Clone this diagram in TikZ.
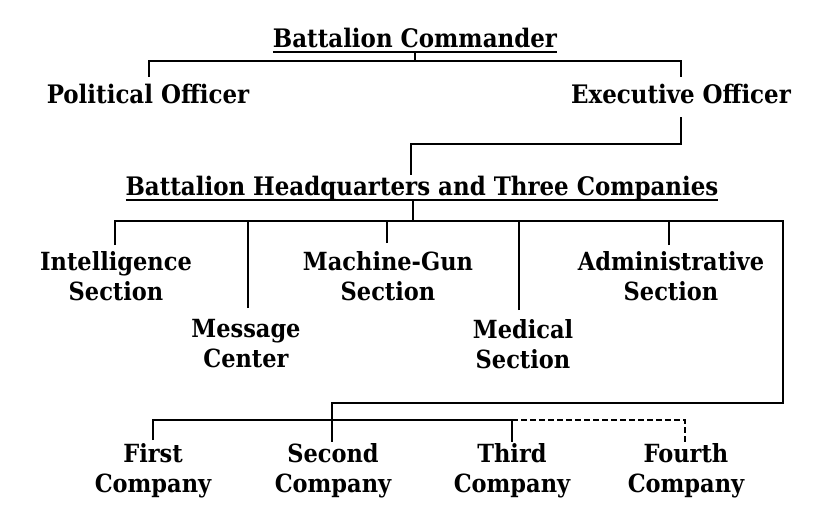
\documentclass[tikz,border=0pt]{standalone}
\usepackage{fontspec}
\setmainfont{DejaVu Serif Condensed}[BoldFont={DejaVu Serif Condensed Bold}]
\newcommand\lblfont{\fontsize{25.5}{30}\selectfont\bfseries}
\newcommand\subfont{\fontsize{25}{30}\selectfont\bfseries}
\begin{document}
\begin{tikzpicture}[x=1pt,y=-1pt,line width=1.8pt,
  lbl/.style={inner sep=0pt,outer sep=0pt,font=\lblfont,align=center,anchor=base},
  sublbl/.style={lbl,font=\subfont},
  dashline/.style={dash pattern=on 6pt off 3pt}]
\useasboundingbox[fill=white] (0,0) rectangle (820,530);
% texts (multi-line nodes are placed by the baseline of their last line)
\node[lbl] (bc) at (415,47) {Battalion Commander};
\node[lbl] (po) at (148,103) {Political Officer};
\node[lbl] (eo) at (681,103) {Executive Officer};
\node[lbl] (hq) at (422,195) {Battalion Headquarters and Three Companies};
\node[sublbl] (is) at (116,300) {Intelligence\\Section};
\node[sublbl] (mc) at (246,367) {Message\\Center};
\node[sublbl] (mg) at (388,300) {Machine-Gun\\Section};
\node[sublbl] (md) at (523,368) {Medical\\Section};
\node[sublbl] (ad) at (671,300) {Administrative\\Section};
\node[sublbl] (c1) at (153,492) {First\\Company};
\node[sublbl] (c2) at (333,492) {Second\\Company};
\node[sublbl] (c3) at (512,492) {Third\\Company};
\node[sublbl] (c4) at (686,492) {Fourth\\Company};
% underlines
\draw[line width=1.6pt] ([yshift=-5pt]bc.base west) -- ([yshift=-5pt]bc.base east);
\draw[line width=1.6pt] ([yshift=-5pt]hq.base west) -- ([yshift=-5pt]hq.base east);
% junction coordinates
\coordinate (bcu) at (415,52);
\coordinate (tbar) at (415,61);
\coordinate (poT) at (149,77);
\coordinate (eoT) at (681,77);
\coordinate (eoB) at (681,117);
\coordinate (hqT) at (411,175);
\coordinate (hqu) at (413,200);
\coordinate (sbar) at (413,221);
\coordinate (isT) at (115,245);
\coordinate (mcT) at (248,308);
\coordinate (mgT) at (387,243);
\coordinate (mdT) at (519,310);
\coordinate (adT) at (669,245);
\coordinate (rgt) at (783,221);
\coordinate (cj) at (332,403);
\coordinate (c2T) at (332,442);
\coordinate (c1T) at (153,440);
\coordinate (c3T) at (512,442);
\coordinate (c4T) at (685,442);
% connectors
\draw (bcu) -- (tbar);
\draw (poT) |- (tbar) -| (eoT);
\draw (eoB) |- (hqT |- 0,144) -- (hqT);
\draw (hqu) -- (sbar);
\draw (isT) |- (sbar) -- (rgt) |- (cj) -- (c2T);
\draw (mcT) -- (mcT |- sbar);
\draw (mgT) -- (mgT |- sbar);
\draw (mdT) -- (mdT |- sbar);
\draw (adT) -- (adT |- sbar);
\draw (c1T) |- (c3T |- 0,420) -- (c3T);
\draw[dashline] (c3T |- 0,420) -| (c4T);
\end{tikzpicture}
\end{document}
